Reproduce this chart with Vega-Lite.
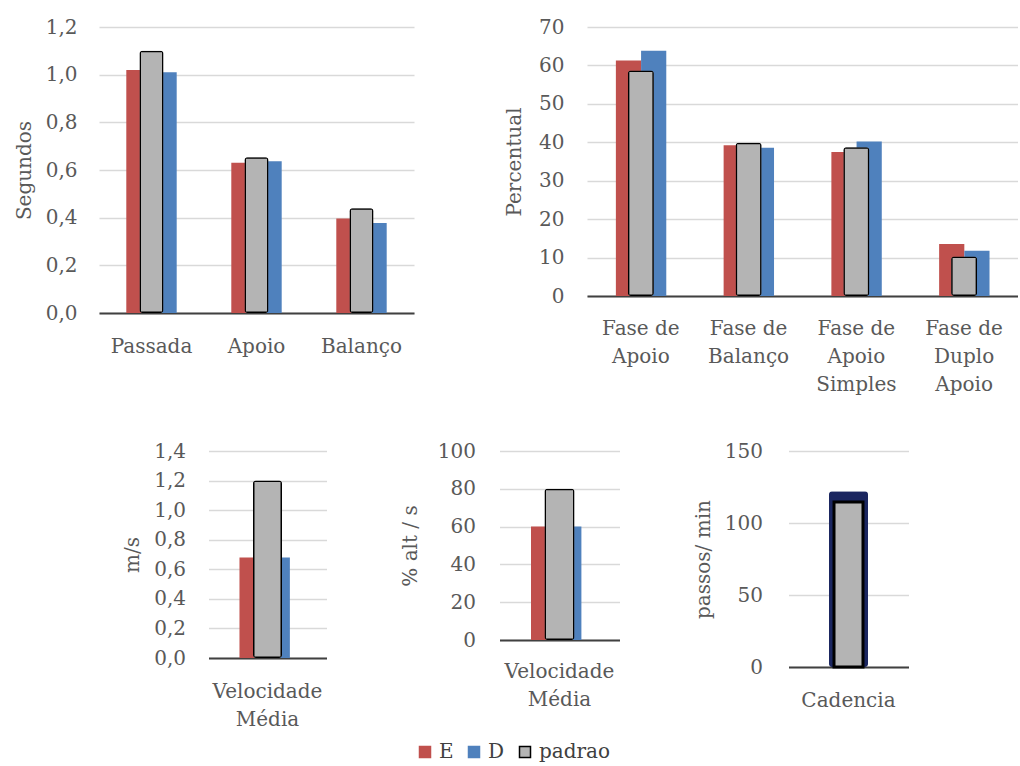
{
  "$schema": "https://vega.github.io/schema/vega-lite/v6.json",
  "padding": {"left": 14, "top": 17, "right": 0, "bottom": 5},
  "background": "white",
  "data": {
    "values": [
      {"painel": "tempo", "categoria": "Passada", "serie": "E", "valor": 1.02},
      {"painel": "tempo", "categoria": "Passada", "serie": "D", "valor": 1.01},
      {"painel": "tempo", "categoria": "Passada", "serie": "padrao", "valor": 1.10},
      {"painel": "tempo", "categoria": "Apoio", "serie": "E", "valor": 0.63},
      {"painel": "tempo", "categoria": "Apoio", "serie": "D", "valor": 0.637},
      {"painel": "tempo", "categoria": "Apoio", "serie": "padrao", "valor": 0.654},
      {"painel": "tempo", "categoria": "Balanço", "serie": "E", "valor": 0.396},
      {"painel": "tempo", "categoria": "Balanço", "serie": "D", "valor": 0.378},
      {"painel": "tempo", "categoria": "Balanço", "serie": "padrao", "valor": 0.44},
      {"painel": "fase", "categoria": "Fase de Apoio", "serie": "E", "valor": 61.3},
      {"painel": "fase", "categoria": "Fase de Apoio", "serie": "D", "valor": 63.8},
      {"painel": "fase", "categoria": "Fase de Apoio", "serie": "padrao", "valor": 58.7},
      {"painel": "fase", "categoria": "Fase de Balanço", "serie": "E", "valor": 39.2},
      {"painel": "fase", "categoria": "Fase de Balanço", "serie": "D", "valor": 38.6},
      {"painel": "fase", "categoria": "Fase de Balanço", "serie": "padrao", "valor": 39.9},
      {"painel": "fase", "categoria": "Fase de Apoio Simples", "serie": "E", "valor": 37.5},
      {"painel": "fase", "categoria": "Fase de Apoio Simples", "serie": "D", "valor": 40.2},
      {"painel": "fase", "categoria": "Fase de Apoio Simples", "serie": "padrao", "valor": 38.7},
      {"painel": "fase", "categoria": "Fase de Duplo Apoio", "serie": "E", "valor": 13.5},
      {"painel": "fase", "categoria": "Fase de Duplo Apoio", "serie": "D", "valor": 11.8},
      {"painel": "fase", "categoria": "Fase de Duplo Apoio", "serie": "padrao", "valor": 10.3},
      {"painel": "vel_ms", "categoria": "Velocidade Média", "serie": "E", "valor": 0.68},
      {"painel": "vel_ms", "categoria": "Velocidade Média", "serie": "D", "valor": 0.68},
      {"painel": "vel_ms", "categoria": "Velocidade Média", "serie": "padrao", "valor": 1.2},
      {"painel": "vel_alt", "categoria": "Velocidade Média", "serie": "E", "valor": 60},
      {"painel": "vel_alt", "categoria": "Velocidade Média", "serie": "D", "valor": 60},
      {"painel": "vel_alt", "categoria": "Velocidade Média", "serie": "padrao", "valor": 80},
      {"painel": "cadencia", "categoria": "Cadencia", "serie": "cadencia", "valor": 122},
      {"painel": "cadencia", "categoria": "Cadencia", "serie": "padrao", "valor": 114.5}
    ]
  },
  "config": {
    "font": "DejaVu Serif",
    "view": {"stroke": null},
    "axis": {
      "labelFont": "DejaVu Serif",
      "labelFontSize": 20,
      "labelColor": "#595959",
      "titleFont": "DejaVu Serif",
      "titleFontSize": 20,
      "titleFontWeight": "normal",
      "titleColor": "#595959"
    },
    "axisX": {
      "domainColor": "#404040",
      "domainWidth": 2,
      "ticks": false,
      "labelAngle": 0,
      "grid": false,
      "labelPadding": 23,
      "labelLineHeight": 28,
      "title": null
    },
    "axisY": {
      "domain": false,
      "ticks": false,
      "gridColor": "#d9d9d9",
      "gridWidth": 1.5,
      "labelPadding": 22,
      "titlePadding": 12
    },
    "legend": {
      "labelFont": "DejaVu Serif",
      "labelFontSize": 20,
      "labelColor": "#404040"
    }
  },
  "spacing": 47,
  "center": true,
  "resolve": {"scale": {"fill": "shared", "stroke": "shared"}},
  "vconcat": [
    {
      "spacing": 90,
      "hconcat": [
        {
          "width": 315,
          "height": 286,
          "transform": [{"filter": "datum.painel == 'tempo'"}],
          "encoding": {
            "x": {"field": "categoria", "type": "nominal", "sort": ["Passada", "Apoio", "Balanço"], "scale": {"paddingInner": 0.52, "paddingOuter": 0.26}},
            "y": {"field": "valor", "type": "quantitative", "scale": {"domain": [0, 1.2]}, "axis": {"title": "Segundos", "titlePadding": 11, "values": [0, 0.2, 0.4, 0.6, 0.8, 1.0, 1.2], "labelExpr": "replace(format(datum.value, '.1f'), '.', ',')"}}
          },
          "layer": [
            {
              "transform": [{"filter": "datum.serie != 'padrao'"}],
              "mark": {"type": "bar"},
              "encoding": {
                "xOffset": {"field": "serie", "type": "nominal", "sort": ["E", "D"]},
                "fill": {"field": "serie", "type": "nominal", "scale": {"domain": ["E", "D", "padrao"], "range": ["#C0504D", "#4F81BD", "#b4b4b4"]}, "legend": {"orient": "none", "legendX": 316, "legendY": 715, "direction": "horizontal", "title": null, "symbolType": "square", "symbolSize": 121, "symbolStrokeWidth": 1.5, "columnPadding": 10, "labelOffset": 4}}
              }
            },
            {
              "transform": [{"filter": "datum.serie == 'padrao'"}],
              "mark": {"type": "bar", "width": 24, "strokeWidth": 3, "cornerRadius": 3},
              "encoding": {
                "fill": {"field": "serie", "type": "nominal"},
                "stroke": {"field": "serie", "type": "nominal", "scale": {"domain": ["E", "D", "padrao"], "range": ["#C0504D", "#4F81BD", "#000000"]}, "legend": {"orient": "none", "legendX": 316, "legendY": 715, "direction": "horizontal", "title": null, "symbolType": "square", "symbolSize": 121, "symbolStrokeWidth": 1.5, "columnPadding": 10, "labelOffset": 4}}
              }
            }
          ]
        },
        {
          "width": 431,
          "height": 269,
          "transform": [{"filter": "datum.painel == 'fase'"}],
          "encoding": {
            "x": {"field": "categoria", "type": "nominal", "sort": ["Fase de Apoio", "Fase de Balanço", "Fase de Apoio Simples", "Fase de Duplo Apoio"], "scale": {"paddingInner": 0.536, "paddingOuter": 0.268}, "axis": {"labelPadding": 22, "labelExpr": "datum.value == 'Fase de Apoio Simples' ? ['Fase de', 'Apoio', 'Simples'] : datum.value == 'Fase de Duplo Apoio' ? ['Fase de', 'Duplo', 'Apoio'] : ['Fase de', replace(datum.value, 'Fase de ', '')]"}},
            "y": {"field": "valor", "type": "quantitative", "scale": {"domain": [0, 70]}, "axis": {"title": "Percentual", "titlePadding": 14, "labelPadding": 23, "values": [0, 10, 20, 30, 40, 50, 60, 70]}}
          },
          "layer": [
            {
              "transform": [{"filter": "datum.serie != 'padrao'"}],
              "mark": {"type": "bar"},
              "encoding": {
                "xOffset": {"field": "serie", "type": "nominal", "sort": ["E", "D"]},
                "fill": {"field": "serie", "type": "nominal"}
              }
            },
            {
              "transform": [{"filter": "datum.serie == 'padrao'"}],
              "mark": {"type": "bar", "width": 26, "strokeWidth": 3, "cornerRadius": 3},
              "encoding": {
                "fill": {"field": "serie", "type": "nominal"},
                "stroke": {"field": "serie", "type": "nominal"}
              }
            }
          ]
        }
      ]
    },
    {
      "spacing": 73,
      "hconcat": [
        {
          "width": 118,
          "height": 207,
          "transform": [{"filter": "datum.painel == 'vel_ms'"}],
          "encoding": {
            "x": {"field": "categoria", "type": "nominal", "scale": {"paddingInner": 0.525, "paddingOuter": 0.2625}, "axis": {"labelExpr": "split(datum.value, ' ')"}},
            "y": {"field": "valor", "type": "quantitative", "scale": {"domain": [0, 1.4]}, "axis": {"title": "m/s", "titlePadding": 11, "labelPadding": 23, "values": [0, 0.2, 0.4, 0.6, 0.8, 1.0, 1.2, 1.4], "labelExpr": "replace(format(datum.value, '.1f'), '.', ',')"}}
          },
          "layer": [
            {
              "transform": [{"filter": "datum.serie != 'padrao'"}],
              "mark": {"type": "bar"},
              "encoding": {
                "xOffset": {"field": "serie", "type": "nominal", "sort": ["E", "D"]},
                "fill": {"field": "serie", "type": "nominal"}
              }
            },
            {
              "transform": [{"filter": "datum.serie == 'padrao'"}],
              "mark": {"type": "bar", "width": 29, "strokeWidth": 3, "cornerRadius": 3},
              "encoding": {
                "fill": {"field": "serie", "type": "nominal"},
                "stroke": {"field": "serie", "type": "nominal"}
              }
            }
          ]
        },
        {
          "width": 120,
          "height": 189,
          "transform": [{"filter": "datum.painel == 'vel_alt'"}],
          "encoding": {
            "x": {"field": "categoria", "type": "nominal", "scale": {"paddingInner": 0.525, "paddingOuter": 0.2625}, "axis": {"labelPadding": 21, "labelExpr": "split(datum.value, ' ')"}},
            "y": {"field": "valor", "type": "quantitative", "scale": {"domain": [0, 100]}, "axis": {"title": "% alt / s", "titlePadding": 17, "labelPadding": 24, "values": [0, 20, 40, 60, 80, 100]}}
          },
          "layer": [
            {
              "transform": [{"filter": "datum.serie != 'padrao'"}],
              "mark": {"type": "bar"},
              "encoding": {
                "xOffset": {"field": "serie", "type": "nominal", "sort": ["E", "D"]},
                "fill": {"field": "serie", "type": "nominal"}
              }
            },
            {
              "transform": [{"filter": "datum.serie == 'padrao'"}],
              "mark": {"type": "bar", "width": 30, "strokeWidth": 3, "cornerRadius": 3},
              "encoding": {
                "fill": {"field": "serie", "type": "nominal"},
                "stroke": {"field": "serie", "type": "nominal"}
              }
            }
          ]
        },
        {
          "width": 120,
          "height": 216,
          "transform": [{"filter": "datum.painel == 'cadencia'"}],
          "encoding": {
            "x": {"field": "categoria", "type": "nominal", "scale": {"paddingInner": 0.5, "paddingOuter": 0.25}},
            "y": {"field": "valor", "type": "quantitative", "scale": {"domain": [0, 150]}, "axis": {"title": "passos/ min", "titlePadding": 11, "labelPadding": 26, "values": [0, 50, 100, 150]}}
          },
          "layer": [
            {
              "transform": [{"filter": "datum.serie == 'cadencia'"}],
              "mark": {"type": "bar", "width": 39, "color": "#1b2660", "cornerRadius": 3}
            },
            {
              "transform": [{"filter": "datum.serie == 'padrao'"}],
              "mark": {"type": "bar", "width": 29, "strokeWidth": 3},
              "encoding": {
                "fill": {"field": "serie", "type": "nominal"},
                "stroke": {"field": "serie", "type": "nominal"}
              }
            }
          ]
        }
      ]
    }
  ]
}
